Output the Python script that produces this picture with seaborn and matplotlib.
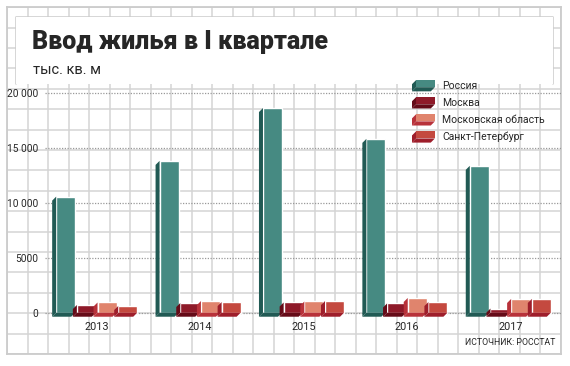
import numpy as np
import pandas as pd
import matplotlib
matplotlib.use('Agg')
import matplotlib.pyplot as plt
import seaborn as sns
from matplotlib import font_manager
from matplotlib.patches import Rectangle, Polygon, Patch
from matplotlib.legend_handler import HandlerBase


years = ['2013', '2014', '2015', '2016', '2017']
regions = ['Россия', 'Москва', 'Московская область', 'Санкт-Петербург']
russia = [10550, 13800, 18600, 15800, 13350]
moscow = [700, 880, 930, 840, 380]
mosobl = [930, 1060, 1020, 1340, 1250]
spb = [610, 970, 1060, 970, 1250]
yticks = [0, 5000, 10000, 15000, 20000]
ytick_labels = ['0', '5000', '10 000', '15 000', '20 000']

front_colors = ['#468a82', '#8e1a29', '#e0846d', '#c4493f']
dark_colors = ['#215a54', '#650b18', '#b8323a', '#9e1e2b']


df = pd.DataFrame({
    'year': years * 4,
    'region': sum([[r] * len(years) for r in regions], []),
    'value': russia + moscow + mosobl + spb,
})


sns.set_style('white')
names = {f.name for f in font_manager.fontManager.ttflist}
narrow = 'Liberation Sans Narrow' if 'Liberation Sans Narrow' in names else 'Roboto'
plt.rcParams['font.family'] = [narrow, 'DejaVu Sans']

W, H = 570, 366
fig = plt.figure(figsize=(W / 100, H / 100), dpi=100)
fig.patch.set_facecolor('white')


# фоновая сетка в клетку
bg = fig.add_axes([7.3 / W, 1 - 354 / H, 553.4 / W, 346.7 / H], zorder=0)
bg.set_xlim(0, 553.4)
bg.set_ylim(0, 346.7)
for x in np.arange(0, 554, 20.5):
    bg.axvline(x, color='#d4d4d4', lw=1.1)
for y in np.arange(0, 347, 20.4):
    bg.axhline(y, color='#d4d4d4', lw=1.1)
bg.set_xticks([])
bg.set_yticks([])
for s in bg.spines.values():
    s.set_color('#cccccc')
    s.set_linewidth(1.3)

# белая плашка под заголовком (без нижней границы)
fig.patches.append(Rectangle((16 / W, 1 - 84 / H), 537 / W, 67 / H,
                             transform=fig.transFigure, facecolor='white',
                             edgecolor='none', zorder=1))
fig.lines.append(plt.Line2D([16 / W, 16 / W, 553 / W, 553 / W],
                            [1 - 84 / H, 1 - 17 / H, 1 - 17 / H, 1 - 84 / H],
                            transform=fig.transFigure, color='#cccccc',
                            lw=1.1, zorder=1))
fig.text(32 / W, 1 - 49.5 / H, 'Ввод жилья в I квартале', fontsize=18,
         fontweight='heavy', va='baseline', ha='left', zorder=3)
fig.text(33 / W, 1 - 70 / H, 'тыс. кв. м', fontsize=10.5, va='center',
         ha='left', zorder=3)


ax = fig.add_axes([45 / W, 1 - 318 / H, 517 / W, 238 / H], zorder=2)
ax.patch.set_alpha(0)
sns.barplot(data=df, x='year', y='value', hue='region', hue_order=regions,
            palette=front_colors, saturation=1, width=0.8, gap=0.08,
            legend=False, ax=ax, zorder=3)
ax.set_xlim(-0.5, 4.5)
ax.set_ylim(-480, 21150)
ax.set_yticks(yticks)
ax.set_yticklabels(ytick_labels)
ax.set_xlabel('')
ax.set_ylabel('')
for s in ax.spines.values():
    s.set_visible(False)
ax.tick_params(axis='both', length=0, labelsize=7.8)
ax.tick_params(axis='y', pad=5, labelsize=7.3)
ax.tick_params(axis='x', pad=3)
for yv in yticks:
    ax.axhline(yv, color='#999999', lw=0.9, ls=(0, (1, 1.2)), zorder=1)

# объём у столбиков: левая грань и нижняя грань
inv = ax.transData.inverted()
p0 = inv.transform((0, 0))
p1 = inv.transform((4, 4))
dx, dy = p1 - p0
for cont, dark in zip(ax.containers, dark_colors):
    for bar in cont:
        x0, y0 = bar.get_x(), bar.get_y()
        x1, y1 = x0 + bar.get_width(), y0 + bar.get_height()
        side = Polygon([(x0, y0), (x0, y1), (x0 - dx, y1 - dy), (x0 - dx, y0 - dy)],
                       closed=True, facecolor=dark, edgecolor='none', zorder=4)
        bottom = Polygon([(x0 - dx, y0 - dy), (x1 - dx, y0 - dy), (x1, y0), (x0, y0)],
                         closed=True, facecolor=dark, edgecolor='none', zorder=4)
        ax.add_patch(side)
        ax.add_patch(bottom)


class BoxHandler(HandlerBase):
    def create_artists(self, legend, orig_handle, xdescent, ydescent,
                       width, height, fontsize, trans):
        d = 3.0
        x0, y0 = -xdescent + d, -ydescent + d
        w, h = width - d, height - d
        fc = orig_handle.get_facecolor()
        ec = orig_handle.get_edgecolor()
        front = Rectangle((x0, y0), w, h, facecolor=fc, edgecolor='none', transform=trans)
        side = Polygon([(x0, y0), (x0, y0 + h), (x0 - d, y0 + h - d), (x0 - d, y0 - d)],
                       facecolor=ec, edgecolor='none', transform=trans)
        bottom = Polygon([(x0 - d, y0 - d), (x0 + w - d, y0 - d), (x0 + w, y0), (x0, y0)],
                         facecolor=ec, edgecolor='none', transform=trans)
        return [side, bottom, front]


handles = [Patch(facecolor=f, edgecolor=d) for f, d in zip(front_colors, dark_colors)]
leg = fig.legend(handles, regions, handler_map={Patch: BoxHandler()},
                 loc='upper left', bbox_to_anchor=(412 / W, 1 - 80 / H),
                 frameon=False, fontsize=7.5, handlelength=2.2, handleheight=1.3,
                 handletextpad=0.7, labelspacing=0.55, borderpad=0, borderaxespad=0)
leg.set_zorder(5)

fig.text(555 / W, 1 - 342.5 / H, 'ИСТОЧНИК: РОССТАТ', fontsize=6.3,
         ha='right', va='center', zorder=3)

fig.savefig('out.png', dpi=100)
